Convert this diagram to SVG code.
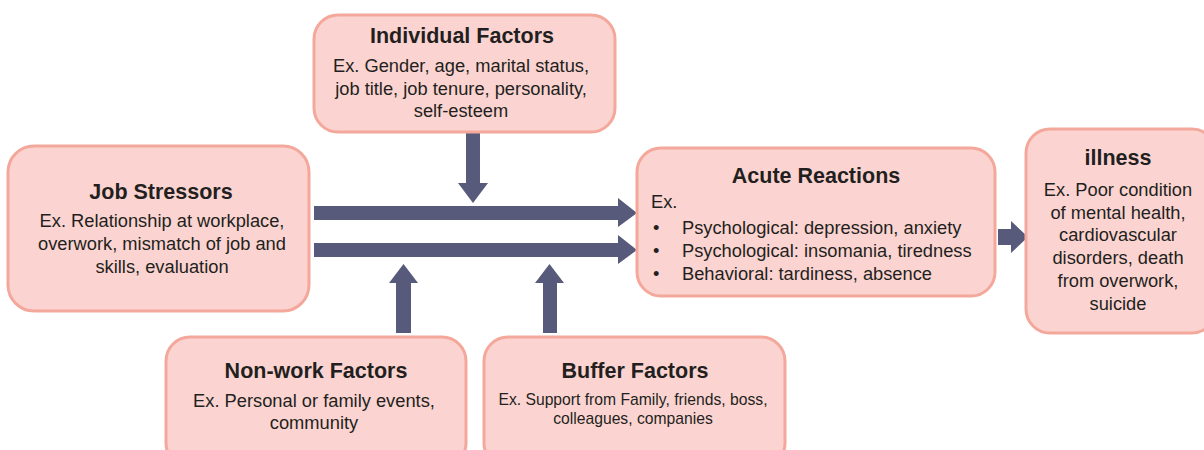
<svg xmlns="http://www.w3.org/2000/svg" width="1204" height="450" viewBox="0 0 1204 450">
  <style>
    .box { fill: #fbd4d1; stroke: #f4a89b; stroke-width: 3; }
    .title { font-family: "Liberation Sans", Arial, sans-serif; font-size: 21.5px; font-weight: bold; fill: #231f20; text-anchor: middle; }
    .body { font-family: "Liberation Sans", Arial, sans-serif; font-size: 18.3px; fill: #231f20; text-anchor: middle; }
    .small { font-size: 15.7px; }
    .left { text-anchor: start; }
    .arrow { fill: #575a7b; }
  </style>
  <rect width="1204" height="450" fill="#ffffff"/>

  <!-- connectors: block arrows -->
  <g id="connectors">
    <!-- Individual Factors down -->
    <polygon class="arrow" points="466,133 480,133 480,183 488,183 473,203 458,183 466,183"/>
    <!-- Job Stressors to Acute Reactions (two arrows) -->
    <polygon class="arrow" points="314,206 618,206 618,198 637,213 618,227 618,220 314,220"/>
    <polygon class="arrow" points="314,243 618,243 618,235 637,250 618,264 618,257 314,257"/>
    <!-- Non-work Factors up -->
    <polygon class="arrow" points="396,333 396,283 389,283 403.5,264 418,283 411,283 411,333"/>
    <!-- Buffer Factors up -->
    <polygon class="arrow" points="543,333 543,283 535,283 549.5,264 564,283 557,283 557,333"/>
    <!-- Acute Reactions to illness -->
    <polygon class="arrow" points="998,229 1011,229 1011,221 1028,237 1011,253 1011,245 998,245"/>
  </g>

  <g id="individual-factors">
    <rect class="box" x="314" y="15" width="301" height="117" rx="24"/>
    <text class="title" x="462" y="43">Individual Factors</text>
    <text class="body" x="461" y="72">Ex. Gender, age, marital status,</text>
    <text class="body" x="461" y="95">job title, job tenure, personality,</text>
    <text class="body" x="461" y="117">self-esteem</text>
  </g>

  <g id="job-stressors">
    <rect class="box" x="8" y="146" width="301" height="165" rx="26"/>
    <text class="title" x="161" y="199">Job Stressors</text>
    <text class="body" x="162" y="227">Ex. Relationship at workplace,</text>
    <text class="body" x="162" y="250">overwork, mismatch of job and</text>
    <text class="body" x="162" y="273">skills, evaluation</text>
  </g>

  <g id="acute-reactions">
    <rect class="box" x="637" y="148" width="358" height="148" rx="24"/>
    <text class="title" x="816" y="183">Acute Reactions</text>
    <text class="body left" x="651" y="208">Ex.</text>
    <text class="body left" x="653" y="234">•</text>
    <text class="body left" x="682" y="234">Psychological: depression, anxiety</text>
    <text class="body left" x="653" y="257">•</text>
    <text class="body left" x="682" y="257">Psychological: insomania, tiredness</text>
    <text class="body left" x="653" y="280">•</text>
    <text class="body left" x="682" y="280">Behavioral: tardiness, absence</text>
  </g>

  <g id="illness">
    <rect class="box" x="1026" y="129" width="190" height="204" rx="24"/>
    <text class="title" x="1118" y="165">illness</text>
    <text class="body" x="1118" y="196">Ex. Poor condition</text>
    <text class="body" x="1118" y="219">of mental health,</text>
    <text class="body" x="1118" y="241">cardiovascular</text>
    <text class="body" x="1118" y="264">disorders, death</text>
    <text class="body" x="1118" y="287">from overwork,</text>
    <text class="body" x="1118" y="310">suicide</text>
  </g>

  <g id="non-work-factors">
    <rect class="box" x="166" y="337" width="300" height="130" rx="24"/>
    <text class="title" x="316" y="378">Non-work Factors</text>
    <text class="body" x="314" y="407">Ex. Personal or family events,</text>
    <text class="body" x="314" y="429">community</text>
  </g>

  <g id="buffer-factors">
    <rect class="box" x="484" y="337" width="301" height="130" rx="24"/>
    <text class="title" x="635" y="378">Buffer Factors</text>
    <text class="body small" x="633" y="405">Ex. Support from Family, friends, boss,</text>
    <text class="body small" x="633" y="424">colleagues, companies</text>
  </g>
</svg>
